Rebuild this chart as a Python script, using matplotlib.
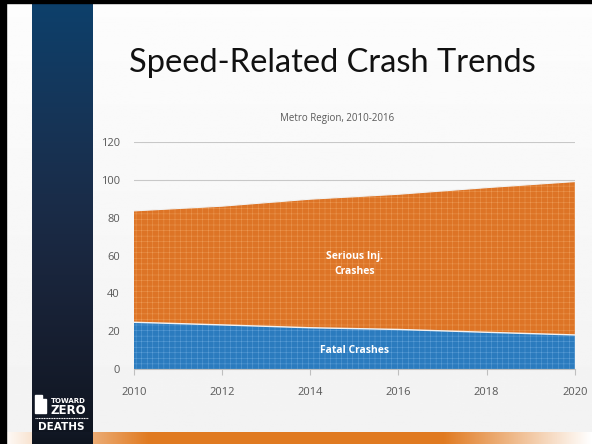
import numpy as np
import matplotlib
matplotlib.use("Agg")
import matplotlib.pyplot as plt

# ---- data ----
years = [2010, 2012, 2014, 2016, 2018, 2020]
fatal = [24.7, 23.3, 21.8, 20.9, 19.4, 18.0]
serious = [58.9, 62.8, 68.0, 71.5, 76.5, 81.1]   # stacked on top of fatal
xticks = [2010, 2012, 2014, 2016, 2018, 2020]
yticks = [0, 20, 40, 60, 80, 100, 120]

TITLE = "Speed-Related Crash Trends"
SUBTITLE = "Metro Region, 2010-2016"

ORANGE = "#DD7426"
ORANGE_HATCH = "#EC9A55"
BLUE = "#2B7BBE"
BLUE_HATCH = "#5FA0D8"
GRAY_TXT = "#595959"

plt.rcParams["font.family"] = ["Open Sans", "DejaVu Sans"]
plt.rcParams["hatch.linewidth"] = 0.35

fig = plt.figure(figsize=(5.92, 4.44), dpi=100)
fig.patch.set_facecolor("#F4F4F4")

# slide decoration: background, left strip, bottom bar, border
bg = fig.add_axes([0, 0, 1, 1], zorder=-10)
bg.set_xlim(0, 592)
bg.set_ylim(444, 0)
bg.axis("off")
bg.imshow(np.linspace(0.99, 0.95, 256).reshape(-1, 1) * np.ones((1, 2)),
          cmap="gray", vmin=0, vmax=1, extent=[0, 592, 444, 0], aspect="auto")
strip = np.linspace(0, 1, 256)
strip_rgb = np.zeros((256, 1, 3))
strip_rgb[:, 0, 0] = 0.05 + 0.05 * np.sin(strip * 3)
strip_rgb[:, 0, 1] = 0.25 - 0.17 * strip
strip_rgb[:, 0, 2] = 0.42 - 0.30 * strip
bg.imshow(strip_rgb, extent=[32, 93, 444, 4], aspect="auto")
bar = np.ones((1, 256, 3))
fade = np.clip(np.minimum(np.linspace(0, 4, 256), np.linspace(4, 0, 256)), 0, 1)
bar[0, :, 0] = 1 - (1 - 0.88) * fade
bar[0, :, 1] = 1 - (1 - 0.48) * fade
bar[0, :, 2] = 1 - (1 - 0.13) * fade
bg.imshow(bar, extent=[0, 592, 444, 432], aspect="auto")
bg.imshow(strip_rgb[-20:], extent=[32, 93, 444, 432], aspect="auto")
bg.add_patch(plt.Rectangle((0, 0), 592, 3, color="black"))
bg.add_patch(plt.Rectangle((0, 0), 6, 444, color="black"))

# logo
bg.add_patch(plt.Polygon([(35, 395), (42, 395), (42, 399), (46, 399),
                          (46, 413), (35, 413)], color="white"))
bg.text(86, 401, "TOWARD", color="white", fontsize=5, fontweight="bold",
        ha="right", va="center", family="DejaVu Sans")
bg.text(86, 410, "ZERO", color="white", fontsize=8.5, fontweight="bold",
        ha="right", va="center", family="DejaVu Sans")
bg.plot([35, 88], [418, 418], color="white", lw=0.8, ls=(0, (1, 0.5)))
bg.text(61.5, 427, "DEATHS", color="white", fontsize=7.5, fontweight="bold",
        ha="center", va="center", family="DejaVu Sans")

fig.text(0.561, 0.858, TITLE, fontsize=23.5, ha="center", va="center",
         color="#111111", family=["Lato", "DejaVu Sans"])
fig.text(0.569, 0.732, SUBTITLE, fontsize=7, ha="center", va="center",
         color=GRAY_TXT)

# ---- chart ----
ax = fig.add_axes([0.226, 0.169, 0.745, 0.511])
ax.set_facecolor("none")
top = [f + s for f, s in zip(fatal, serious)]
ax.fill_between(years, 0, fatal, facecolor=BLUE, edgecolor=BLUE_HATCH,
                hatch="+++", linewidth=0)
ax.fill_between(years, fatal, top, facecolor=ORANGE, edgecolor=ORANGE_HATCH,
                hatch="+++", linewidth=0)
ax.plot(years, fatal, color="#F2F2F2", lw=1.0)
ax.plot(years, top, color="#F2F2F2", lw=0.8)

ax.set_xlim(2010, 2020)
ax.set_ylim(0, 120)
ax.set_xticks(xticks)
ax.set_yticks(yticks)
ax.tick_params(axis="both", colors=GRAY_TXT, labelsize=8)
ax.tick_params(axis="y", length=0, pad=10)
ax.tick_params(axis="x", length=4, color="#BFBFBF", pad=9)
ax.grid(axis="y", color="#C8C8C8", lw=0.8)
ax.set_axisbelow(True)
for side in ["top", "right", "left"]:
    ax.spines[side].set_visible(False)
ax.spines["bottom"].set_color("#BFBFBF")

ax.text(2015, 55.5, "Serious Inj.\nCrashes", color="white", fontsize=7.5,
        fontweight="bold", ha="center", va="center", linespacing=1.4)
ax.text(2015, 10, "Fatal Crashes", color="white", fontsize=7.5,
        fontweight="bold", ha="center", va="center")

fig.savefig("out.png", dpi=100, facecolor=fig.get_facecolor())
